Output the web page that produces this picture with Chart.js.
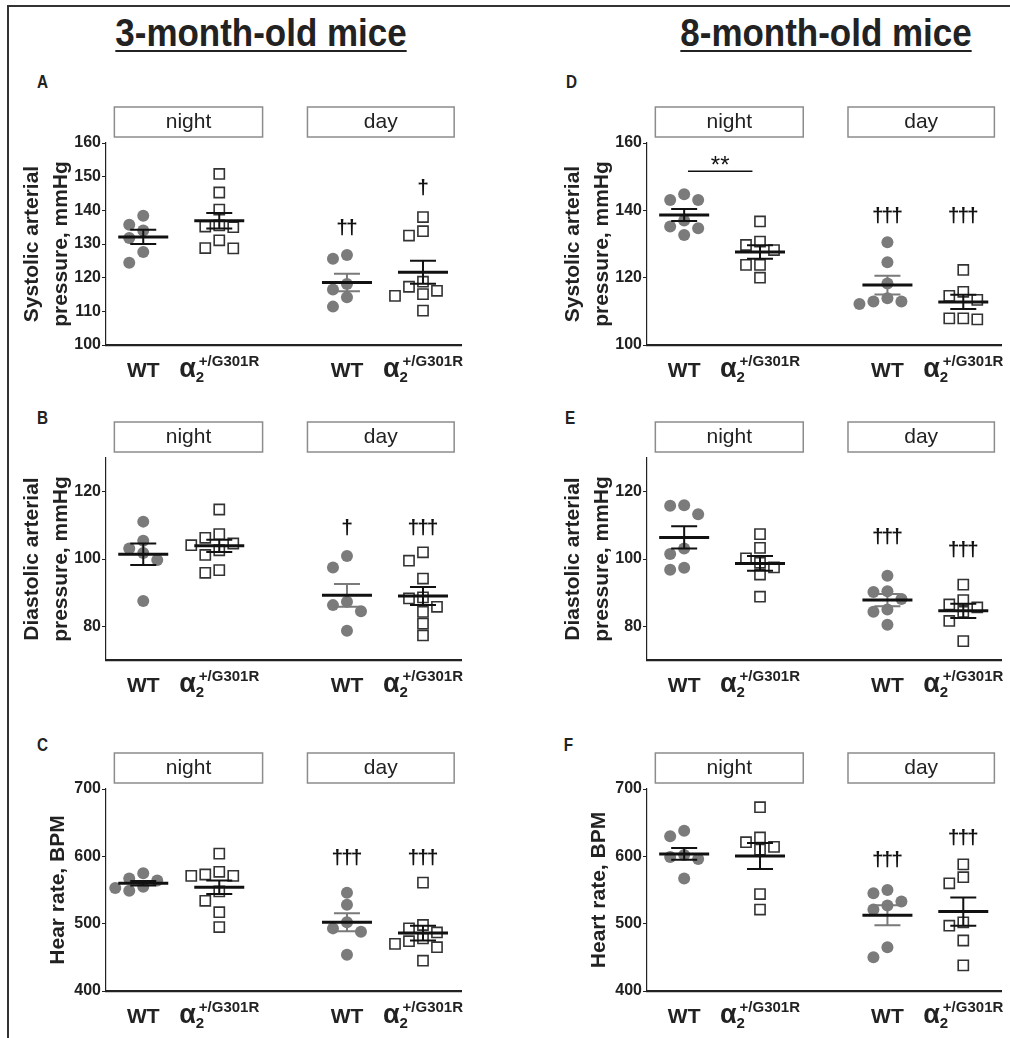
<!DOCTYPE html>
<html>
<head>
<meta charset="utf-8">
<title>Blood pressure and heart rate, 3- and 8-month-old mice</title>
<script src="https://cdn.jsdelivr.net/npm/chart.js"></script>
<style>
  body { margin: 0; background: #fff; width: 1010px; height: 1038px; position: relative; overflow: hidden;
         font-family: "Liberation Sans", Arial, sans-serif; color: #222; }
  #frame { position: absolute; left: 7px; top: 5px; width: 1010px; height: 1040px;
           border-left: 2px solid #333; border-top: 2px solid #333; }
  .head { position: absolute; top: 13px; width: 400px; text-align: center; font-size: 38px; line-height: 40px;
          font-weight: bold; text-decoration: underline; text-decoration-thickness: 2px; text-underline-offset: 4px;
          transform: scaleX(0.92); transform-origin: center; color: #222; }
  .letter { position: absolute; font-weight: bold; font-size: 18px; line-height: 20px; color: #222;
            transform: scaleX(0.85); }
  canvas { position: absolute; }
</style>
</head>
<body>
<div id="frame"></div>
<div class="head" style="left:61px">3-month-old mice</div>
<div class="head" style="left:626px">8-month-old mice</div>
<div class="letter" style="left:36px;top:72px">A</div>
<div class="letter" style="left:36px;top:408px">B</div>
<div class="letter" style="left:36px;top:735px">C</div>
<div class="letter" style="left:565px;top:72px">D</div>
<div class="letter" style="left:564px;top:408px">E</div>
<div class="letter" style="left:563px;top:735px">F</div>

<canvas id="chartA" width="505" height="300" style="left:0;top:95px"></canvas>
<canvas id="chartB" width="505" height="300" style="left:0;top:410px"></canvas>
<canvas id="chartC" width="505" height="300" style="left:0;top:741px"></canvas>
<canvas id="chartD" width="505" height="300" style="left:505px;top:95px"></canvas>
<canvas id="chartE" width="505" height="300" style="left:505px;top:410px"></canvas>
<canvas id="chartF" width="505" height="300" style="left:505px;top:741px"></canvas>

<script>
// group order: WT night, a2+/G301R night, WT day, a2+/G301R day
const periods = ['night', 'day'];

// A: systolic, 3 months
const sbp3WtNight = [135.7, 138.4, 134.0, 131.8, 127.6, 124.4];
const sbp3MutNight = [150.8, 145.3, 140.2, 135.5, 135.2, 135.0, 131.1, 128.7, 128.8];
const sbp3WtDay = [125.6, 126.7, 116.5, 118.1, 114.2, 111.4];
const sbp3MutDay = [138.0, 132.5, 133.8, 117.3, 118.8, 115.1, 116.1, 114.6, 110.2];
const sbp3Mean = [132.1, 136.9, 118.6, 121.6];
const sbp3Sem = [2.1, 2.3, 2.6, 3.4];

// B: diastolic, 3 months
const dbp3WtNight = [111.1, 105.4, 101.8, 103.1, 99.7, 87.5];
const dbp3MutNight = [114.7, 107.4, 104.1, 104.6, 101.2, 106.3, 102.6, 95.9, 96.7];
const dbp3WtDay = [100.9, 97.5, 87.3, 86.3, 84.5, 78.7];
const dbp3MutDay = [102.0, 99.5, 94.2, 85.8, 88.6, 84.3, 88.3, 80.8, 77.3];
const dbp3Mean = [101.4, 103.9, 89.2, 89.0];
const dbp3Sem = [3.2, 1.8, 3.4, 2.7];

// C: heart rate, 3 months
const hr3WtNight = [567, 564, 575, 549, 553, 555];
const hr3MutNight = [604, 571, 573, 571, 577, 548, 534, 517, 495];
const hr3WtDay = [546, 528, 493, 502, 488, 454];
const hr3MutDay = [561, 493, 498, 487, 474, 470, 478, 465, 445];
const hr3Mean = [560, 554, 502, 486];
const hr3Sem = [3.5, 10, 13.4, 11];

// D: systolic, 8 months
const sbp8WtNight = [143.1, 144.8, 143.1, 137.0, 135.2, 134.7, 132.7];
const sbp8MutNight = [136.7, 129.7, 130.7, 128.2, 123.8, 123.8, 120.0];
const sbp8WtDay = [130.5, 124.6, 118.3, 112.2, 113.9, 112.9, 112.9];
const sbp8MutDay = [122.3, 114.6, 115.8, 113.4, 107.6, 107.9, 107.9];
const sbp8Mean = [138.6, 127.6, 117.8, 112.8];
const sbp8Sem = [1.8, 2.0, 2.8, 2.1];

// E: diastolic, 8 months
const dbp8WtNight = [116.0, 115.8, 113.3, 101.5, 103.1, 96.8, 97.4];
const dbp8MutNight = [107.4, 103.3, 98.9, 97.5, 100.2, 95.4, 88.8];
const dbp8WtDay = [95.0, 90.4, 90.2, 88.1, 84.3, 85.0, 80.5];
const dbp8MutDay = [92.4, 87.8, 85.6, 86.5, 84.3, 81.6, 75.6];
const dbp8Mean = [106.4, 98.7, 87.8, 84.6];
const dbp8Sem = [3.3, 2.2, 1.8, 2.1];

// F: heart rate, 8 months
const hr8WtNight = [638, 630, 599, 602, 596, 567];
const hr8MutNight = [673, 621, 628, 614, 610, 544, 521];
const hr8WtDay = [545, 550, 527, 533, 521, 465, 450];
const hr8MutDay = [588, 560, 569, 497, 502, 475, 438];
const hr8Mean = [603.5, 600.5, 512.5, 518];
const hr8Sem = [8.7, 19.4, 14.7, 21];

const FONT = '"Liberation Sans", Arial, sans-serif';
const catPos = [1, 2, 3.68, 4.68];

function drawMutLabel(ctx, cx, base) {
  ctx.font = 'bold 27px ' + FONT;
  const wA = ctx.measureText('α').width;
  ctx.font = 'bold 15px ' + FONT;
  const wS = ctx.measureText('+/G301R').width;
  const x0 = cx - (wA + 3 + wS) / 2;
  ctx.textAlign = 'left';
  ctx.font = 'bold 27px ' + FONT;
  ctx.fillText('α', x0, base);
  ctx.font = 'bold 15px ' + FONT;
  ctx.fillText('2', x0 + wA, base + 5);
  ctx.fillText('+/G301R', x0 + wA + 3, base - 11);
}

const decor = {
  id: 'decor',
  afterDatasetsDraw(chart) {
    const o = chart.options.plugins.decor;
    const ctx = chart.ctx, xs = chart.scales.x, ys = chart.scales.y;
    ctx.save();
    ctx.lineCap = 'butt';
    o.mean.forEach((m, i) => {
      const cx = xs.getPixelForValue(catPos[i]);
      const t = ys.getPixelForValue(m + o.sem[i]);
      const b = ys.getPixelForValue(m - o.sem[i]);
      ctx.strokeStyle = i === 2 ? '#7a7a7a' : '#111';
      ctx.lineWidth = 2;
      ctx.beginPath();
      ctx.moveTo(cx, t); ctx.lineTo(cx, b);
      ctx.moveTo(cx - 13, t); ctx.lineTo(cx + 13, t);
      ctx.moveTo(cx - 13, b); ctx.lineTo(cx + 13, b);
      ctx.stroke();
      const my = ys.getPixelForValue(m);
      ctx.strokeStyle = '#111';
      ctx.lineWidth = 3;
      ctx.beginPath();
      ctx.moveTo(cx - 25, my); ctx.lineTo(cx + 25, my);
      ctx.stroke();
    });
    ctx.restore();
  },
  afterDraw(chart) {
    const o = chart.options.plugins.decor;
    const ctx = chart.ctx, xs = chart.scales.x, ys = chart.scales.y;
    const area = chart.chartArea;
    ctx.save();
    ctx.fillStyle = '#222';
    // night / day boxes
    [[0.62, 2.57], [3.16, 5.09]].forEach((r, k) => {
      const l = xs.getPixelForValue(r[0]), rr = xs.getPixelForValue(r[1]);
      ctx.strokeStyle = '#8c8c8c';
      ctx.lineWidth = 1.5;
      ctx.strokeRect(l, area.top - 36, rr - l, 30);
      ctx.font = '21px ' + FONT;
      ctx.textAlign = 'center';
      ctx.textBaseline = 'middle';
      ctx.fillText(periods[k], (l + rr) / 2, area.top - 21);
    });
    // group labels
    ctx.textBaseline = 'alphabetic';
    catPos.forEach((p, i) => {
      const cx = xs.getPixelForValue(p);
      const base = area.bottom + 32;
      if (i % 2 === 0) {
        ctx.font = 'bold 21px ' + FONT;
        ctx.textAlign = 'center';
        ctx.fillText('WT', cx, base);
      } else {
        drawMutLabel(ctx, cx, base);
      }
    });
    // axis title
    ctx.font = 'bold 21px ' + FONT;
    ctx.textAlign = 'center';
    ctx.textBaseline = 'middle';
    const midY = (area.top + area.bottom) / 2;
    const offs = o.title.length === 2 ? [74, 45] : [48];
    o.title.forEach((line, k) => {
      ctx.save();
      ctx.translate(area.left - offs[k], midY);
      ctx.rotate(-Math.PI / 2);
      ctx.fillText(line, 0, 0);
      ctx.restore();
    });
    // significance marks
    ctx.fillStyle = '#111';
    o.marks.forEach(mk => {
      ctx.font = 'bold 21px ' + FONT;
      ctx.letterSpacing = '-2px';
      ctx.textBaseline = 'middle';
      ctx.fillText(mk.text, xs.getPixelForValue(catPos[mk.i]) - 1, ys.getPixelForValue(mk.v));
      ctx.letterSpacing = '0px';
    });
    if (o.bracket) {
      const bk = o.bracket;
      const y = ys.getPixelForValue(bk.v);
      ctx.strokeStyle = '#111';
      ctx.lineWidth = 1.5;
      ctx.beginPath();
      ctx.moveTo(xs.getPixelForValue(bk.from), y);
      ctx.lineTo(xs.getPixelForValue(bk.to), y);
      ctx.stroke();
      ctx.font = '24px ' + FONT;
      ctx.textBaseline = 'alphabetic';
      ctx.fillText(bk.text, xs.getPixelForValue((bk.from + bk.to) / 2), y + 2);
    }
    ctx.restore();
  }
};

function swarm(chart) {
  const xs = chart.scales.x, ys = chart.scales.y;
  const unit = xs.getPixelForValue(1) - xs.getPixelForValue(0);
  chart.data.datasets.forEach((ds, gi) => {
    const vals = ds.data.map(p => p.y);
    const order = vals.map((v, i) => i).sort((a, b) => vals[b] - vals[a]);
    const placed = [];
    order.forEach(i => {
      const py = ys.getPixelForValue(vals[i]);
      for (const k of [0, -1, 1, -2, 2, -3, 3]) {
        const px = k * 14;
        if (placed.every(q => Math.hypot(q.px - px, q.py - py) >= 11.5)) {
          placed.push({ px, py });
          ds.data[i].x = catPos[gi] + px / unit;
          break;
        }
      }
    });
  });
  chart.update('none');
}

function makePanel(id, right, groups, mean, sem, yCfg, title, marks, bracket) {
  const datasets = groups.map((vals, gi) => {
    const wt = gi % 2 === 0;
    return {
      data: vals.map(v => ({ x: catPos[gi], y: v })),
      pointStyle: wt ? 'circle' : 'rect',
      pointRadius: wt ? 6 : 7.2,
      pointHoverRadius: wt ? 6 : 7.2,
      backgroundColor: wt ? '#7b7b7b' : '#ffffff',
      borderColor: wt ? '#7b7b7b' : '#333333',
      pointBorderWidth: wt ? 0 : 1.6
    };
  });
  const chart = new Chart(document.getElementById(id), {
    type: 'scatter',
    data: { datasets },
    options: {
      responsive: false,
      animation: false,
      events: [],
      layout: { padding: right ? { left: 102, right: 8, top: 48, bottom: 0 } : { left: 66, right: 44, top: 48, bottom: 0 } },
      plugins: {
        legend: { display: false },
        tooltip: { enabled: false },
        decor: { mean, sem, title, marks, bracket }
      },
      scales: {
        x: {
          type: 'linear', min: 0.51, max: 5.18,
          ticks: { display: false },
          grid: { display: false },
          border: { display: true, color: '#222', width: 2.2 },
          afterFit: s => { s.height = 50; }
        },
        y: {
          min: yCfg.min, max: yCfg.max,
          ticks: {
            stepSize: yCfg.step, padding: 1, color: '#222',
            font: { family: FONT, size: 16, weight: 'bold' }
          },
          afterBuildTicks: yCfg.ticks ? s => { s.ticks = yCfg.ticks.map(v => ({ value: v })); } : undefined,
          grid: { display: true, drawOnChartArea: false, drawTicks: true, tickLength: 4, color: '#222', lineWidth: 1 },
          border: { display: true, color: '#222', width: 1.2 },
          afterFit: s => { s.width = 40; }
        }
      }
    },
    plugins: [decor]
  });
  swarm(chart);
  return chart;
}

makePanel('chartA', false, [sbp3WtNight, sbp3MutNight, sbp3WtDay, sbp3MutDay], sbp3Mean, sbp3Sem,
  { min: 100, max: 160, step: 10 }, ['Systolic arterial', 'pressure, mmHg'],
  [{ i: 2, text: '††', v: 134.8 }, { i: 3, text: '†', v: 146.6 }]);
makePanel('chartB', false, [dbp3WtNight, dbp3MutNight, dbp3WtDay, dbp3MutDay], dbp3Mean, dbp3Sem,
  { min: 70, max: 130, ticks: [80, 100, 120] }, ['Diastolic arterial', 'pressure, mmHg'],
  [{ i: 2, text: '†', v: 109.1 }, { i: 3, text: '†††', v: 109.1 }]);
makePanel('chartC', false, [hr3WtNight, hr3MutNight, hr3WtDay, hr3MutDay], hr3Mean, hr3Sem,
  { min: 400, max: 700, step: 100 }, ['Hear rate, BPM'],
  [{ i: 2, text: '†††', v: 597.4 }, { i: 3, text: '†††', v: 597.4 }]);
makePanel('chartD', true, [sbp8WtNight, sbp8MutNight, sbp8WtDay, sbp8MutDay], sbp8Mean, sbp8Sem,
  { min: 100, max: 160, step: 20 }, ['Systolic arterial', 'pressure, mmHg'],
  [{ i: 2, text: '†††', v: 138.2 }, { i: 3, text: '†††', v: 138.2 }],
  { from: 1.05, to: 1.9, v: 151.6, text: '**' });
makePanel('chartE', true, [dbp8WtNight, dbp8MutNight, dbp8WtDay, dbp8MutDay], dbp8Mean, dbp8Sem,
  { min: 70, max: 130, ticks: [80, 100, 120] }, ['Diastolic arterial', 'pressure, mmHg'],
  [{ i: 2, text: '†††', v: 106.6 }, { i: 3, text: '†††', v: 102.6 }]);
makePanel('chartF', true, [hr8WtNight, hr8MutNight, hr8WtDay, hr8MutDay], hr8Mean, hr8Sem,
  { min: 400, max: 700, step: 100 }, ['Heart rate, BPM'],
  [{ i: 2, text: '†††', v: 593.9 }, { i: 3, text: '†††', v: 627.1 }]);
</script>
</body>
</html>
